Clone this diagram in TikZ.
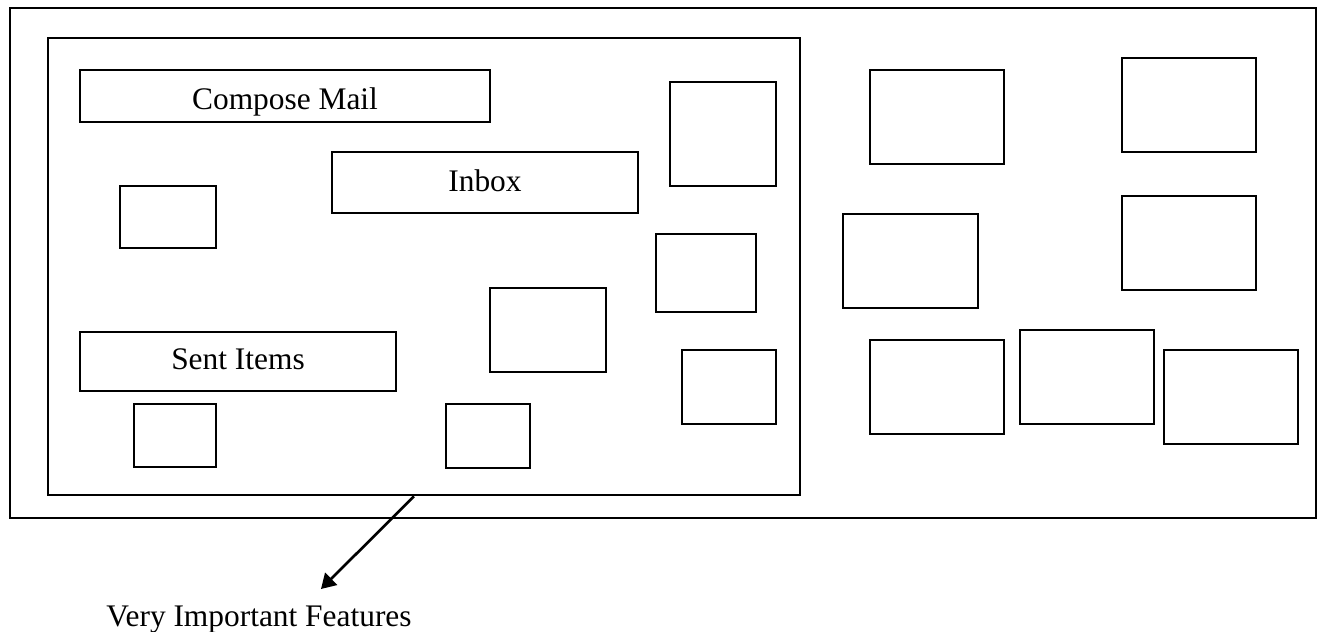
\documentclass[tikz,border=0pt]{standalone}
\usepackage{fontspec}
\setmainfont{Liberation Serif}
\usetikzlibrary{arrows.meta, positioning}
\newcommand{\pxu}{0.414pt}

\begin{document}
\begin{tikzpicture}[
    x=\pxu, y=-\pxu,
    panel/.style 2 args={rectangle, draw, line width=1.1pt, inner sep=0pt,
                 minimum width=#1*\pxu, minimum height=#2*\pxu},
    menu/.style={font=\fontsize{13}{15}\selectfont, text depth=0pt, text height=#1*\pxu},
    pointer/.style={-{Triangle[length=6pt, width=7pt]}, line width=1.1pt},
  ]
    \useasboundingbox (0,0) rectangle (1318,632);

    % frames
    \node[panel={1306}{510}] (window) at (663,263) {};
    \node[panel={752}{457}] (inner) at (424,266.5) {};

    % mail menu
    \node[panel={410}{52}, menu=28] (compose) at (285,96) {Compose Mail};
    \node[panel={306}{61}, menu=19] (inbox) at (485,182.5) {Inbox};
    \node[panel={316}{59}, menu=17] (sent) at (238,361.5) {Sent Items};

    % empty boxes, inner frame
    \node[panel={96}{62}] (b1) at (168,217) {};
    \node[panel={106}{104}] (b2) at (723,134) {};
    \node[panel={100}{78}] (b3) at (706,273) {};
    \node[panel={116}{84}] (b4) at (548,330) {};
    \node[panel={82}{63}] (b5) at (175,435.5) {};
    \node[panel={84}{64}] (b6) at (488,436) {};
    \node[panel={94}{74}] (b7) at (729,387) {};

    % empty boxes, right side
    \node[panel={134}{94}] (r1) at (937,117) {};
    \node[panel={134}{94}] (r2) at (1189,105) {};
    \node[panel={135}{94}] (r3) at (910.5,261) {};
    \node[panel={134}{94}] (r4) at (1189,243) {};
    \node[panel={134}{94}] (r5) at (937,387) {};
    \node[panel={134}{94}] (r6) at (1087,377) {};
    \node[panel={134}{94}] (r7) at (1231,397) {};

    % caption
    \node[font=\fontsize{13}{15}\selectfont, anchor=base, inner sep=0pt] (feat) at (259,627) {Very Important Features};
    \coordinate (tip) at (321,589);
    \draw[pointer] ([xshift=-10*\pxu]inner.south) -- (tip);
  \end{tikzpicture}
\end{document}
